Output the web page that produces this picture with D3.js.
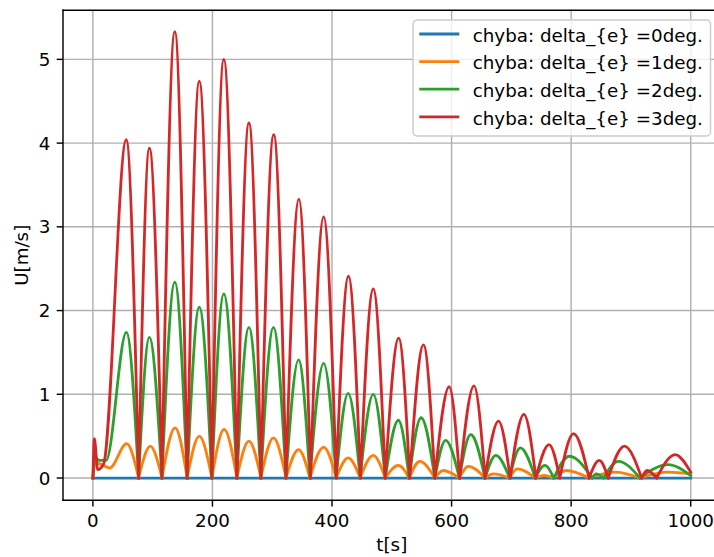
<!DOCTYPE html>
<html>
<head>
<meta charset="utf-8">
<script src="https://cdn.jsdelivr.net/npm/d3@7"></script>
<style>
  body { margin: 0; background: #fff; }
  text { font-family: "DejaVu Sans", sans-serif; fill: #000; }
</style>
</head>
<body>
<svg id="chart"></svg>
<script>
// series: t[s] of zeros and peaks, U[m/s] at those times
var labels = ['chyba: delta_{e} =0deg.', 'chyba: delta_{e} =1deg.',
              'chyba: delta_{e} =2deg.', 'chyba: delta_{e} =3deg.'];
var colors = ['#1f77b4', '#ff7f0e', '#2ca02c', '#d62728'];

var tBlue = [0, 1000];
var uBlue = [0, 0];

var tOrange = [0, 4, 12, 28, 56.5, 76.5, 96, 115.5, 137.5, 157.7, 178, 199, 219.5, 240.8,
  261, 281, 302, 323, 344, 363, 386, 407, 427, 447, 469, 489, 511, 529, 547, 572,
  586, 613, 628, 656, 670, 697, 710, 740, 755, 770, 792, 830, 873, 915, 962, 1000];
var uOrange = [0, 0.18, 0.17, 0.12, 0.41, 0, 0.38, 0, 0.60, 0, 0.50, 0, 0.58, 0,
  0.44, 0, 0.48, 0, 0.34, 0, 0.37, 0, 0.24, 0, 0.27, 0, 0.15, 0, 0.20, 0,
  0.09, 0, 0.14, 0, 0.05, 0, 0.11, 0, 0.03, 0, 0.09, 0, 0.07, 0, 0.07, 0.05];

var tGreen = [0, 3, 10, 22, 56, 76.5, 94.5, 115.5, 137, 157.7, 178, 199, 219, 240.8,
  261, 281, 302, 323, 344, 363, 386, 407, 427, 447, 469, 489, 511, 529, 549, 572,
  590, 613, 632, 656, 674, 697, 715, 740, 756, 771, 797, 835, 842, 854, 879, 915, 962, 1000];
var uGreen = [0, 0.26, 0.21, 0.21, 1.74, 0, 1.68, 0, 2.34, 0, 2.04, 0, 2.20, 0,
  1.80, 0, 1.80, 0, 1.41, 0, 1.37, 0, 1.01, 0, 1.00, 0, 0.69, 0, 0.72, 0,
  0.45, 0, 0.52, 0, 0.27, 0, 0.36, 0, 0.15, 0, 0.26, 0, 0.05, 0, 0.20, 0, 0.16, 0.03];

var tRed = [0, 2.5, 8, 18, 55.7, 76.5, 94.5, 115.5, 137, 157.7, 178, 199, 219, 240.8,
  261, 281, 302.5, 323, 344.5, 364, 386, 407, 427.5, 447.5, 469, 489, 511.5, 530, 553, 572,
  596, 613.5, 637.5, 656, 678.5, 698, 721, 741, 763, 781, 804, 830, 847, 862, 889, 918, 927, 943, 974, 1000];
var uRed = [0, 0.47, 0.10, 0.17, 4.04, 0, 3.94, 0, 5.33, 0, 4.74, 0, 5.00, 0,
  4.24, 0, 4.10, 0, 3.33, 0, 3.12, 0, 2.41, 0, 2.26, 0, 1.67, 0, 1.59, 0,
  1.09, 0, 1.10, 0, 0.68, 0, 0.76, 0, 0.40, 0, 0.53, 0, 0.21, 0, 0.38, 0, 0.09, 0, 0.28, 0.07];

var xTicks = [0, 200, 400, 600, 800, 1000];
var yTicks = [0, 1, 2, 3, 4, 5];

var W = 714, H = 557;
var pL = 63, pT = 10.3, pR = 720.6, pB = 500.3;
var fs = 18.3;

var svg = d3.select('#chart').attr('width', W).attr('height', H);

var x = d3.scaleLinear().domain([-50, 1050]).range([pL, pR]);
var y = d3.scaleLinear().domain([-0.266, 5.586]).range([pB, pT]);

// grid
svg.append('g').selectAll('line')
    .data(xTicks).enter().append('line')
    .attr('x1', d => x(d)).attr('x2', d => x(d))
    .attr('y1', pT).attr('y2', pB)
    .attr('stroke', '#b0b0b0').attr('stroke-width', 1.44);
svg.append('g').selectAll('line')
    .data(yTicks).enter().append('line')
    .attr('x1', pL).attr('x2', pR)
    .attr('y1', d => y(d)).attr('y2', d => y(d))
    .attr('stroke', '#b0b0b0').attr('stroke-width', 1.44);

// split a series into lobes at its zeros so the cusps stay sharp
function lobes(t, u) {
  var segs = [], cur = [];
  t.forEach(function(ti, i) {
    var p = [ti, u[i]];
    cur.push(p);
    if (u[i] === 0 && cur.length > 1) { segs.push(cur); cur = [p]; }
  });
  if (cur.length > 1) segs.push(cur);
  return segs;
}

var line = d3.line()
    .x(d => x(d[0]))
    .y(d => y(d[1]))
    .curve(d3.curveMonotoneX);

var series = [[tBlue, uBlue], [tOrange, uOrange], [tGreen, uGreen], [tRed, uRed]];

svg.append('clipPath').attr('id', 'clip')
  .append('rect').attr('x', pL).attr('y', pT)
  .attr('width', pR - pL).attr('height', pB - pT);

svg.append('g').attr('clip-path', 'url(#clip)')
  .selectAll('path')
    .data(series).enter().append('path')
    .attr('d', d => lobes(d[0], d[1]).map(s => line(s)).join(''))
    .attr('fill', 'none')
    .attr('stroke', (d, i) => colors[i])
    .attr('stroke-width', 2.8)
    .attr('stroke-linejoin', 'round')
    .attr('stroke-linecap', 'square');

// spines
svg.append('line').attr('x1', pL).attr('x2', pL).attr('y1', pT).attr('y2', pB)
   .attr('stroke', '#000').attr('stroke-width', 1.44).attr('stroke-linecap', 'square');
svg.append('line').attr('x1', pL).attr('x2', pR).attr('y1', pB).attr('y2', pB)
   .attr('stroke', '#000').attr('stroke-width', 1.44).attr('stroke-linecap', 'square');
svg.append('line').attr('x1', pL).attr('x2', pR).attr('y1', pT).attr('y2', pT)
   .attr('stroke', '#000').attr('stroke-width', 1.44).attr('stroke-linecap', 'square');

// x axis
var gx = svg.append('g').selectAll('g')
    .data(xTicks).enter().append('g')
    .attr('transform', d => 'translate(' + x(d) + ',' + pB + ')');
gx.append('line').attr('y2', 6.3).attr('stroke', '#000').attr('stroke-width', 1.44);
gx.append('text')
    .attr('y', 26.5)
    .attr('text-anchor', 'middle')
    .style('font-size', fs + 'px')
    .text(d => d);

// y axis
var gy = svg.append('g').selectAll('g')
    .data(yTicks).enter().append('g')
    .attr('transform', d => 'translate(' + pL + ',' + y(d) + ')');
gy.append('line').attr('x2', -6.3).attr('stroke', '#000').attr('stroke-width', 1.44);
gy.append('text')
    .attr('x', -12.6)
    .attr('y', 6.6)
    .attr('text-anchor', 'end')
    .style('font-size', fs + 'px')
    .text(d => d);

svg.append('text')
    .attr('x', (pL + pR) / 2).attr('y', 551)
    .attr('text-anchor', 'middle')
    .style('font-size', fs + 'px')
    .text('t[s]');

svg.append('text')
    .attr('transform', 'translate(28,' + ((pT + pB) / 2) + ') rotate(-90)')
    .attr('text-anchor', 'middle')
    .style('font-size', fs + 'px')
    .text('U[m/s]');

// legend
var lg = svg.append('g').attr('transform', 'translate(413,20)');
lg.append('rect')
    .attr('width', 297.5).attr('height', 116)
    .attr('rx', 4)
    .attr('fill', '#fff').attr('fill-opacity', 0.8)
    .attr('stroke', '#cccccc').attr('stroke-width', 1.44);
var items = lg.selectAll('.item')
    .data(labels).enter().append('g')
    .attr('class', 'item')
    .attr('transform', (d, i) => 'translate(0,' + (14 + i * 27.6) + ')');
items.append('line')
    .attr('x1', 6.3).attr('x2', 46.3)
    .attr('stroke', (d, i) => colors[i])
    .attr('stroke-width', 2.8);
items.append('text')
    .attr('x', 59.7).attr('y', 7.7)
    .style('font-size', fs + 'px')
    .text(d => d);
</script>
</body>
</html>
